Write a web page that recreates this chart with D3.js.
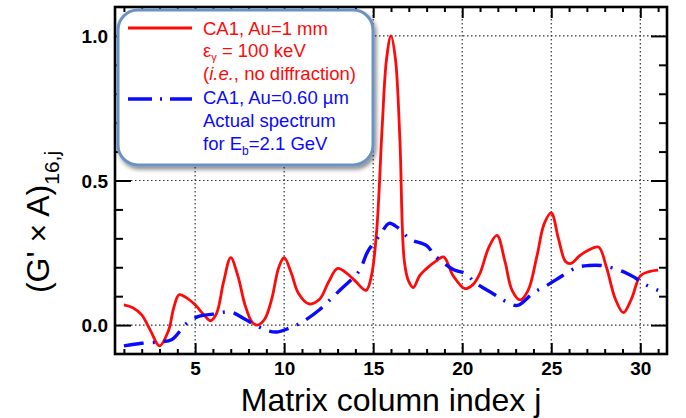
<!DOCTYPE html>
<html>
<head>
<meta charset="utf-8">
<script src="https://cdn.jsdelivr.net/npm/d3@7"></script>
<style>
  body { margin: 0; background: #fff; }
  svg { display: block; font-family: "Liberation Sans", Arial, Helvetica, sans-serif; }
  .tick-label { font-weight: bold; font-size: 19px; fill: #000; }
  .grid line { stroke: #333; stroke-width: 1.2; stroke-dasharray: 1.5,2.5; }
</style>
</head>
<body>
<div id="chart"></div>
<script>
// red curve: CA1, Au=1 mm (no diffraction)
var redJ = [1, 1.5, 2, 2.5, 3, 3.5, 3.8, 4.1, 4.5, 5, 5.5, 5.85, 6.2, 6.6, 7, 7.4, 7.8, 8.2, 8.5, 8.9,
  9.3, 9.7, 10, 10.4, 10.8, 11.4, 12, 12.5, 13, 13.5, 14, 14.6, 14.9, 15.2, 15.5, 15.75, 16, 16.25, 16.5, 16.75,
  17, 17.25, 17.6, 17.9, 18.5, 18.95, 19.5, 20.15, 20.6, 21, 21.5, 21.95, 22.4, 22.8, 23.25, 23.7, 24.2, 24.6, 25, 25.4,
  25.8, 26.1, 26.6, 27, 27.65, 28.1, 28.6, 29.05, 29.5, 30, 30.5, 31];
var redV = [0.07, 0.06, 0.035, -0.02, -0.072, -0.02, 0.06, 0.105, 0.095, 0.07, 0.035, 0.015, 0.04, 0.15, 0.233, 0.17, 0.07, 0.01, 0.0, 0.02,
  0.09, 0.2, 0.233, 0.18, 0.11, 0.073, 0.09, 0.15, 0.196, 0.18, 0.152, 0.12, 0.17, 0.33, 0.68, 0.92, 1.0, 0.92, 0.64, 0.22,
  0.15, 0.13, 0.17, 0.19, 0.22, 0.236, 0.17, 0.126, 0.14, 0.18, 0.27, 0.31, 0.22, 0.12, 0.087, 0.12, 0.24, 0.35, 0.388, 0.3,
  0.22, 0.213, 0.24, 0.256, 0.27, 0.2, 0.09, 0.043, 0.09, 0.17, 0.185, 0.19];

// blue curve: CA1, Au=0.60 um, actual spectrum
var blueJ = [1, 2, 3, 3.7, 4.5, 5.2, 6, 7, 7.8, 8.5, 9, 9.6, 10.3, 11, 12, 12.6, 13.2, 14.2, 14.7, 15.4,
  15.9, 16.4, 17.1, 18, 18.5, 19.5, 20.2, 20.7, 21.8, 22.4, 23.1, 24, 24.7, 25.3, 26.4, 27.1, 27.8, 29, 29.7, 30.3, 31];
var blueV = [-0.072, -0.063, -0.058, -0.05, 0.005, 0.03, 0.038, 0.045, 0.02, -0.004, -0.018, -0.024, -0.01, 0.01, 0.054, 0.089, 0.125, 0.186, 0.255, 0.313,
  0.352, 0.336, 0.296, 0.275, 0.238, 0.192, 0.178, 0.148, 0.106, 0.083, 0.068, 0.112, 0.135, 0.158, 0.198, 0.206, 0.206, 0.186, 0.164, 0.14, 0.12];

var xMajorTicks = [5, 10, 15, 20, 25, 30];
var yMajorTicks = [0.0, 0.5, 1.0];

var red = "#ff0a0a", blue = "#0a0aff";

var margin = {top: 7, right: 19, bottom: 64, left: 115},
    width  = 686 - margin.left - margin.right,
    height = 418 - margin.top - margin.bottom;

var xScale = d3.scaleLinear().domain([0.5, 31.5]).range([0, width]);
var yScale = d3.scaleLinear().domain([-0.1, 1.1]).range([height, 0]);

var svg = d3.select("#chart")
  .append("svg")
  .attr("width", 686)
  .attr("height", 418);

var defs = svg.append("defs");
defs.append("clipPath").attr("id", "plotClip")
  .append("rect").attr("width", width).attr("height", height);

var shadow = defs.append("filter").attr("id", "boxShadow")
  .attr("x", "-10%").attr("y", "-10%").attr("width", "130%").attr("height", "130%");
shadow.append("feDropShadow")
  .attr("dx", 2).attr("dy", 3)
  .attr("stdDeviation", 2)
  .attr("flood-color", "#000")
  .attr("flood-opacity", 0.45);

var g = svg.append("g")
  .attr("transform", "translate(" + margin.left + "," + margin.top + ")");

// dotted grid
g.append("g").attr("class", "grid")
  .selectAll("line.gx").data(xMajorTicks).enter().append("line")
  .attr("x1", function (d) { return xScale(d); })
  .attr("x2", function (d) { return xScale(d); })
  .attr("y1", 0).attr("y2", height);
g.append("g").attr("class", "grid")
  .selectAll("line.gy").data(yMajorTicks).enter().append("line")
  .attr("y1", function (d) { return yScale(d); })
  .attr("y2", function (d) { return yScale(d); })
  .attr("x1", 0).attr("x2", width);

// axes with inward ticks on all 4 sides
var xMinor = d3.range(1, 32).filter(function (d) { return d % 5 !== 0; });
var yMinor = d3.range(-0.1, 1.11, 0.1).map(function (d) { return Math.round(d * 10) / 10; })
  .filter(function (d) { return yMajorTicks.indexOf(d) < 0 && d > -0.1 && d < 1.1; });

function addAxis(axis, transform) {
  var a = g.append("g").attr("transform", transform).call(axis);
  a.select(".domain").remove();
  a.selectAll(".tick line").attr("stroke", "#000").attr("stroke-width", 2);
  return a;
}

addAxis(d3.axisBottom(xScale).tickValues(xMinor).tickSize(-5).tickFormat(""), "translate(0," + height + ")");
addAxis(d3.axisTop(xScale).tickValues(xMinor).tickSize(-5).tickFormat(""), "translate(0,0)");
addAxis(d3.axisTop(xScale).tickValues(xMajorTicks).tickSize(-11).tickFormat(""), "translate(0,0)");
var xAx = addAxis(d3.axisBottom(xScale).tickValues(xMajorTicks).tickSize(-11).tickPadding(8).tickFormat(d3.format("d")), "translate(0," + height + ")");
xAx.selectAll("text").attr("class", "tick-label").attr("font-family", null).attr("font-size", null);

addAxis(d3.axisLeft(yScale).tickValues(yMinor).tickSize(-8).tickFormat(""), "translate(0,0)");
addAxis(d3.axisRight(yScale).tickValues(yMinor).tickSize(-8).tickFormat(""), "translate(" + width + ",0)");
addAxis(d3.axisRight(yScale).tickValues(yMajorTicks).tickSize(-16).tickFormat(""), "translate(" + width + ",0)");
var yAx = addAxis(d3.axisLeft(yScale).tickValues(yMajorTicks).tickSize(-16).tickPadding(7).tickFormat(d3.format(".1f")), "translate(0,0)");
yAx.selectAll("text").attr("class", "tick-label").attr("font-family", null).attr("font-size", null).attr("x", -7).attr("dy", "0.36em");

// curves
function toPoints(js, vs) {
  return js.map(function (j, i) { return {j: j, v: vs[i]}; });
}
var lineFunction = d3.line()
  .x(function (d) { return xScale(d.j); })
  .y(function (d) { return yScale(d.v); })
  .curve(d3.curveCatmullRom.alpha(0.5));

var curves = g.append("g").attr("clip-path", "url(#plotClip)");
curves.append("path")
  .attr("d", lineFunction(toPoints(redJ, redV)))
  .attr("fill", "none")
  .attr("stroke", red)
  .attr("stroke-width", 2.8);
curves.append("path")
  .attr("d", lineFunction(toPoints(blueJ, blueV)))
  .attr("fill", "none")
  .attr("stroke", blue)
  .attr("stroke-width", 3.4)
  .attr("stroke-dasharray", "20,9,2,9");

// frame
g.append("rect")
  .attr("width", width).attr("height", height)
  .attr("fill", "none")
  .attr("stroke", "#000")
  .attr("stroke-width", 2.6);

// axis titles
svg.append("text")
  .attr("x", margin.left + width / 2)
  .attr("y", 411)
  .attr("text-anchor", "middle")
  .attr("font-size", 32)
  .text("Matrix column index j");

var yTitle = svg.append("text")
  .attr("transform", "translate(49,222) rotate(-90)")
  .attr("text-anchor", "middle")
  .attr("font-size", 32);
yTitle.append("tspan").text("(G' \u00d7 A)");
yTitle.append("tspan").attr("font-size", 21).attr("dy", 10).text("16,j");

// legend
var legend = svg.append("g");
legend.append("rect")
  .attr("x", 118).attr("y", 10)
  .attr("width", 255).attr("height", 155)
  .attr("rx", 20).attr("ry", 20)
  .attr("fill", "#fff")
  .attr("stroke", "#6a92c4")
  .attr("stroke-width", 3)
  .attr("filter", "url(#boxShadow)");

legend.append("line")
  .attr("x1", 128).attr("x2", 192).attr("y1", 28).attr("y2", 28)
  .attr("stroke", red).attr("stroke-width", 2.8);
legend.append("line")
  .attr("x1", 128).attr("x2", 192).attr("y1", 99).attr("y2", 99)
  .attr("stroke", blue).attr("stroke-width", 3.4)
  .attr("stroke-dasharray", "24,8,2,8");

function legendLine(y, color) {
  return legend.append("text")
    .attr("x", 203).attr("y", y)
    .attr("font-size", 18.5)
    .attr("fill", color);
}
legendLine(35, red).text("CA1, Au=1 mm");
var l2 = legendLine(57, red);
l2.append("tspan").text("\u03b5");
l2.append("tspan").attr("font-size", 11).attr("dy", 4).text("\u03b3");
l2.append("tspan").attr("dy", -4).text(" = 100 keV");
var l3 = legendLine(80, red);
l3.append("tspan").text("(");
l3.append("tspan").attr("font-style", "italic").text("i.e.");
l3.append("tspan").text(", no diffraction)");
legendLine(104, blue).text("CA1, Au=0.60 \u00b5m");
legendLine(127, blue).text("Actual spectrum");
var l6 = legendLine(150, blue);
l6.append("tspan").text("for E");
l6.append("tspan").attr("font-size", 12).attr("dy", 5).text("b");
l6.append("tspan").attr("dy", -5).text("=2.1 GeV");
</script>
</body>
</html>
